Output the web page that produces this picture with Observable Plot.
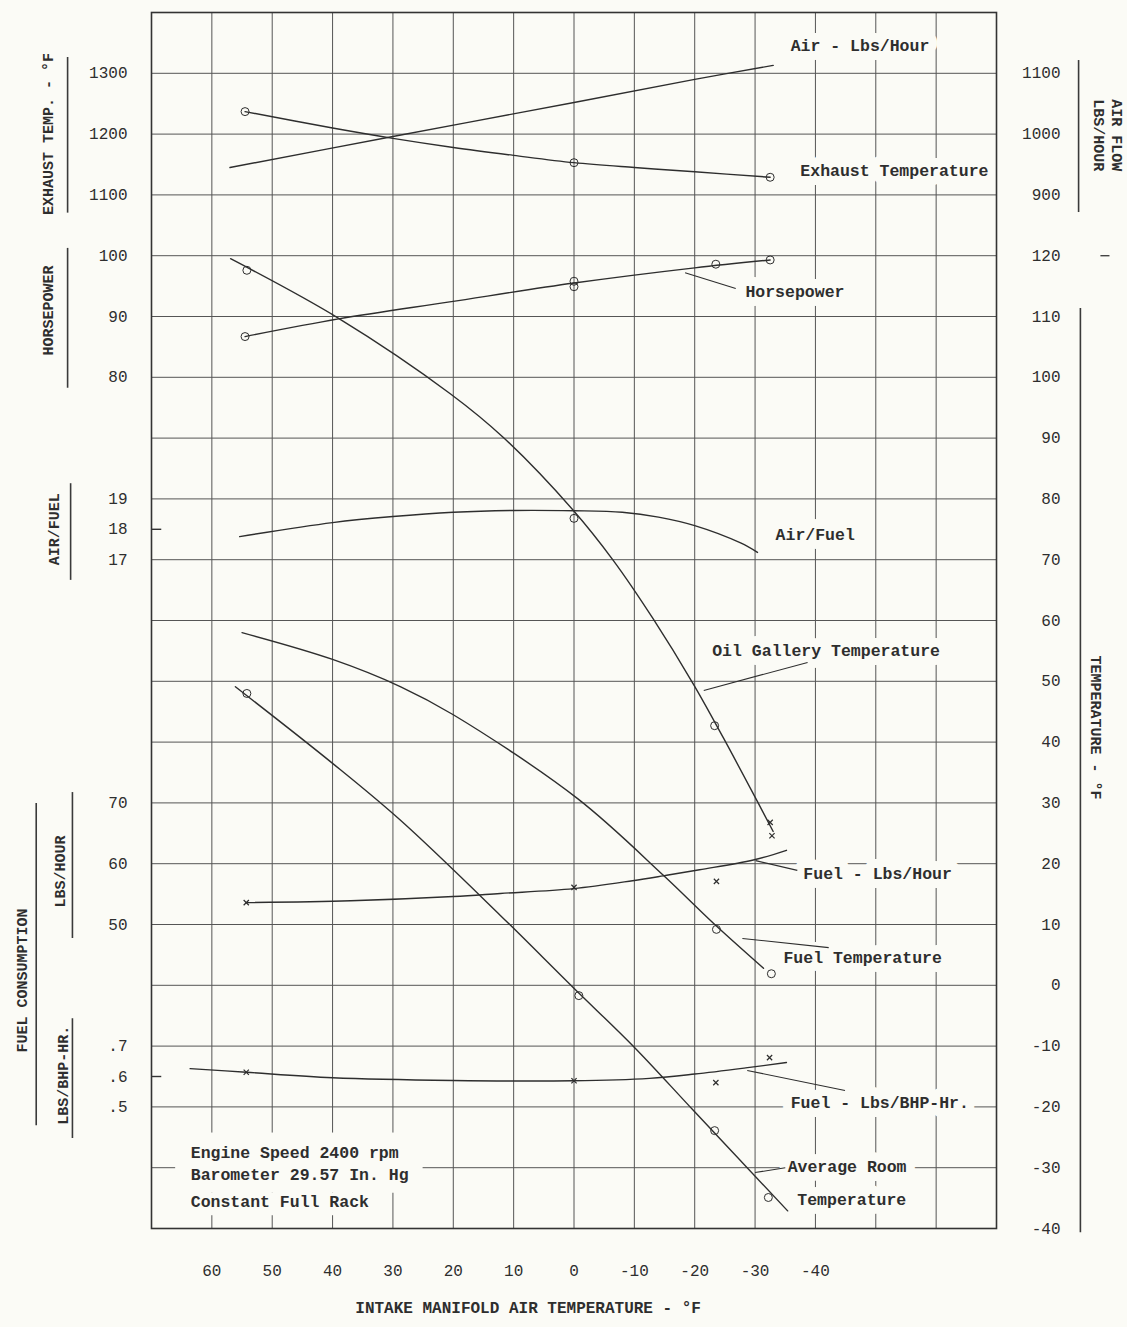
<!DOCTYPE html>
<html><head><meta charset="utf-8">
<script src="https://cdn.jsdelivr.net/npm/d3@7"></script>
<script src="https://cdn.jsdelivr.net/npm/@observablehq/plot@0.6"></script>
<style>
html,body{margin:0;padding:0;background:#fbfbf6;}
#chart svg{display:block;}
</style></head><body><div id="chart"></div>
<script>
// ================= DATA =================
// x: intake manifold air temperature (°F); values in each series' own unit
const xTickValues = [60, 50, 40, 30, 20, 10, 0, -10, -20, -30, -40];
const xGridValues = [60, 50, 40, 30, 20, 10, 0, -10, -20, -30, -40, -50, -60];
const tempGridValues = [-30, -20, -10, 0, 10, 20, 30, 40, 50, 60, 70, 80, 90, 100, 110, 120, 130, 140, 150];

const exhaustTicks = [1300, 1200, 1100];
const horsepowerTicks = [100, 90, 80];
const airFuelTicks = [19, 18, 17];
const fuelLbsTicks = [70, 60, 50];
const fuelBhpTicks = [0.7, 0.6, 0.5];
const fuelBhpTickLabels = [".7", ".6", ".5"];
const airFlowTicks = [1100, 1000, 900];
const temperatureTicks = [120, 110, 100, 90, 80, 70, 60, 50, 40, 30, 20, 10, 0, -10, -20, -30, -40];

const airFlowLine = [[57, 945], [30, 996], [0, 1052], [-20, 1090], [-33, 1113]];

const exhaustLine = [[54.5, 1237], [40, 1210], [30, 1193], [20, 1178], [10, 1165], [0, 1153], [-10, 1145], [-20, 1138], [-32.5, 1129]];
const exhaustPoints = [[54.5, 1237], [0, 1153], [-32.5, 1129]];

const horsepowerLine = [[54.5, 86.7], [39, 89.6], [20.6, 92.4], [0, 95.5], [-20, 98.0], [-32.5, 99.3]];
const horsepowerPoints = [[54.5, 86.7], [0, 95.8], [0, 94.9], [-23.5, 98.6], [-32.5, 99.3]];

const airFuelLine = [[55.4, 17.76], [40, 18.22], [30, 18.42], [20, 18.56], [10, 18.62], [0, 18.61], [-8, 18.56], [-14, 18.4], [-20, 18.12], [-27.6, 17.55], [-30.4, 17.24]];
const airFuelPoints = [[0, 18.36]];

const oilGalleryLine = [[56.9, 119.5], [39.0, 109.7], [20.5, 97.3], [11.7, 90.1], [0.1, 78.1], [-6.5, 69.9], [-13.1, 60.3], [-19.8, 49.5], [-24.8, 40.6], [-30.4, 30.2], [-33.0, 25.3]];
const oilGalleryPoints = [[54.2, 117.6], [-23.3, 42.7]];
const oilGalleryCrossPoints = [[-32.8, 24.6], [-32.5, 26.8]];

const fuelTempLine = [[55.0, 58.0], [40.0, 53.6], [28.7, 49.1], [20.0, 44.5], [-0.6, 30.7], [-14.8, 18.1], [-23.1, 10.2], [-31.4, 2.8]];
const fuelTempPoints = [[-23.6, 9.2], [-32.7, 1.9]];

const roomTempLine = [[56.1, 49.1], [40.0, 36.5], [28.7, 27.1], [12.2, 11.5], [0.1, -0.4], [-9.9, -10.1], [-19.8, -20.6], [-35.4, -37.1]];
const roomTempPoints = [[54.2, 48], [-0.8, -1.7], [-23.3, -23.9], [-32.2, -34.9]];

const fuelLbsLine = [[54.3, 53.6], [37, 53.9], [20, 54.6], [12.2, 55.1], [0.1, 55.9], [-9.7, 57.2], [-14.8, 58.0], [-20.8, 59.0], [-29.7, 60.6], [-35.2, 62.2]];
const fuelLbsPoints = [[54.3, 53.6], [0, 56.1], [-23.6, 57.1]];

const fuelBhpLine = [[63.6, 0.626], [54.3, 0.614], [40, 0.596], [20, 0.587], [0.2, 0.586], [-12.5, 0.594], [-20, 0.608], [-29.1, 0.63], [-35.2, 0.646]];
const fuelBhpPoints = [[54.3, 0.614], [0, 0.586], [-23.5, 0.58], [-32.4, 0.662]];

const curveLabels = ["Air - Lbs/Hour", "Exhaust Temperature", "Horsepower", "Air/Fuel", "Oil Gallery Temperature",
  "Fuel - Lbs/Hour", "Fuel Temperature", "Fuel - Lbs/BHP-Hr.", "Average Room", "Temperature"];
const noteLines = ["Engine Speed 2400 rpm", "Barometer 29.57 In. Hg", "Constant Full Rack"];
const leftTitles = ["EXHAUST TEMP. - °F", "HORSEPOWER", "AIR/FUEL", "FUEL CONSUMPTION", "LBS/HOUR", "LBS/BHP-HR."];
const rightTitles = ["AIR FLOW", "LBS/HOUR", "TEMPERATURE - °F"];
const xTitle = "INTAKE MANIFOLD AIR TEMPERATURE - °F";

// ================= AXIS UNIT MAPPINGS (onto the right-hand temperature scale) =================
const toT = {
  exhaust: v => 130 + (v - 1100) / 10,
  airFlow: v => 130 + (v - 900) / 10,
  hp: v => v + 20,
  af: v => 70 + (v - 17) * 5,
  fuelLbs: v => v - 40,
  fuelBhp: v => -15 + (v - 0.6) * 50,
  temp: v => v
};

// ================= LAYOUT (data units: x = °F intake, y = temperature scale) =================
const labelPos = [[-35.9, 154.6], [-37.5, 134.0], [-28.4, 114.1], [-33.4, 74.1], [-22.9, 55.1],
  [-38, 18.4], [-34.7, 4.6], [-35.9, -19.3], [-35.4, -29.8], [-37, -35.2]];
const notePos = [[63.5, -27.5], [63.5, -31.1], [63.5, -35.6]];
const leaders = [
  [-18.4, 117.2, -26.8, 114.6], [-21.5, 48.5, -38.7, 53.1], [-30.1, 20.5, -37, 18.9],
  [-27.9, 7.7, -42.2, 6.2], [-28.7, -14, -44.9, -17.3], [-30, -30.8, -35, -30]
];
const leftTitlePos = [[87.1, 140], [87.1, 111], [86.2, 75], [91.4, 0.8], [85.1, 18.7], [84.7, -14.8]];
const rightTitlePos = [[-90, 139.8], [-86.9, 139.8], [-86.4, 42.4]];
const titleBars = [[83.9, 152.6, 127], [83.9, 121.2, 98.2], [83.4, 82.5, 66.6], [89.1, 29.9, -23.1],
  [83.1, 31.7, 7.7], [83.1, -5.5, -25.2], [-83.6, 152.1, 127.1], [-83.9, 111.3, -40.7]];
const noteBoxes = [[66, 25, -24.3, -34.2], [66, 31.5, -34.2, -37.9]];

// ================= BUILD =================
const ink = "#2e2e2e";
const bg = "#fbfbf6";
const font = "'Liberation Mono', 'DejaVu Sans Mono', monospace";

const leftTickT = [], leftTickLab = new Map();
exhaustTicks.forEach(v => { leftTickT.push(toT.exhaust(v)); leftTickLab.set(toT.exhaust(v), String(v)); });
horsepowerTicks.forEach(v => { leftTickT.push(toT.hp(v)); leftTickLab.set(toT.hp(v), String(v)); });
airFuelTicks.forEach(v => { leftTickT.push(toT.af(v)); leftTickLab.set(toT.af(v), String(v)); });
fuelLbsTicks.forEach(v => { leftTickT.push(toT.fuelLbs(v)); leftTickLab.set(toT.fuelLbs(v), String(v)); });
fuelBhpTicks.forEach((v, i) => { const t = Math.round(toT.fuelBhp(v) * 1000) / 1000; leftTickT.push(t); leftTickLab.set(t, fuelBhpTickLabels[i]); });

const rightTickT = [], rightTickLab = new Map();
airFlowTicks.forEach(v => { rightTickT.push(toT.airFlow(v)); rightTickLab.set(toT.airFlow(v), String(v)); });
temperatureTicks.forEach(v => { rightTickT.push(v); rightTickLab.set(v, String(v)); });

function curve(data, f) {
  return Plot.line(data, {x: d => d[0], y: d => f(d[1]), curve: "catmull-rom", stroke: ink, strokeWidth: 1.4});
}
function circles(data, f) {
  return Plot.dot(data, {x: d => d[0], y: d => f(d[1]), r: 4, stroke: ink, strokeWidth: 1, fill: "none"});
}
function crosses(data, f) {
  return Plot.dot(data, {x: d => d[0], y: d => f(d[1]), r: 2.5, symbol: "times", stroke: ink, strokeWidth: 1.2});
}

const chart = Plot.plot({
  width: 1127,
  height: 1327,
  marginLeft: 151,
  marginRight: 131,
  marginTop: 12,
  marginBottom: 99,
  x: {domain: [70, -70]},
  y: {domain: [-40, 160]},
  style: {background: bg, fontFamily: font, fontSize: "16px", color: ink},
  marks: [
    Plot.ruleX(xGridValues, {stroke: "#555", strokeWidth: 1}),
    Plot.ruleY(tempGridValues, {stroke: "#555", strokeWidth: 1}),
    Plot.rect(noteBoxes, {x1: d => d[0], x2: d => d[1], y1: d => d[2], y2: d => d[3], fill: bg}),
    Plot.ruleY([toT.af(18), toT.fuelBhp(0.6)], {x1: 70, x2: 68.3, stroke: "#333", strokeWidth: 1.4}),
    Plot.ruleY([120], {x1: -87.3, x2: -88.8, stroke: "#444", strokeWidth: 1.4}),
    Plot.axisX(xTickValues, {anchor: "bottom", tickSize: 0, tickPadding: 36, fontSize: 16, tickFormat: d => String(d), label: null}),
    Plot.axisY(leftTickT, {anchor: "left", tickSize: 0, tickPadding: 24, fontSize: 16, tickFormat: d => leftTickLab.get(d), label: null}),
    Plot.axisY(rightTickT, {anchor: "right", tickSize: 0, tickPadding: 64, textAnchor: "end", fontSize: 16, tickFormat: d => rightTickLab.get(d), label: null}),
    Plot.ruleX(titleBars, {x: d => d[0], y1: d => d[1], y2: d => d[2], stroke: "#3a3a3a", strokeWidth: 1.6}),
    Plot.text(leftTitles, {x: (d, i) => leftTitlePos[i][0], y: (d, i) => leftTitlePos[i][1], text: d => d, rotate: -90, fontSize: 15, fontWeight: "bold", fill: ink}),
    Plot.text(rightTitles, {x: (d, i) => rightTitlePos[i][0], y: (d, i) => rightTitlePos[i][1], text: d => d, rotate: 90, fontSize: 15, fontWeight: "bold", fill: ink}),
    Plot.text([xTitle], {x: 7.6, frameAnchor: "bottom", dy: 84, text: d => d, fontSize: 16, fontWeight: "bold", fill: ink}),
    Plot.text(curveLabels, {x: (d, i) => labelPos[i][0], y: (d, i) => labelPos[i][1], text: d => d, textAnchor: "start", fontSize: 16.5, fontWeight: "bold", fill: ink, stroke: bg, strokeWidth: 18, strokeLinejoin: "round"}),
    Plot.text(noteLines, {x: (d, i) => notePos[i][0], y: (d, i) => notePos[i][1], text: d => d, textAnchor: "start", fontSize: 16.5, fontWeight: "bold", fill: ink}),
    Plot.frame({stroke: "#333", strokeWidth: 1.6}),
    Plot.link(leaders, {x1: d => d[0], y1: d => d[1], x2: d => d[2], y2: d => d[3], stroke: ink, strokeWidth: 1.1}),
    curve(airFlowLine, toT.airFlow),
    curve(exhaustLine, toT.exhaust), circles(exhaustPoints, toT.exhaust),
    curve(horsepowerLine, toT.hp), circles(horsepowerPoints, toT.hp),
    curve(airFuelLine, toT.af), circles(airFuelPoints, toT.af),
    curve(oilGalleryLine, toT.temp), circles(oilGalleryPoints, toT.temp), crosses(oilGalleryCrossPoints, toT.temp),
    curve(fuelTempLine, toT.temp), circles(fuelTempPoints, toT.temp),
    curve(roomTempLine, toT.temp), circles(roomTempPoints, toT.temp),
    curve(fuelLbsLine, toT.fuelLbs), crosses(fuelLbsPoints, toT.fuelLbs),
    curve(fuelBhpLine, toT.fuelBhp), crosses(fuelBhpPoints, toT.fuelBhp)
  ]
});
document.getElementById("chart").append(chart);
</script>
</body></html>
